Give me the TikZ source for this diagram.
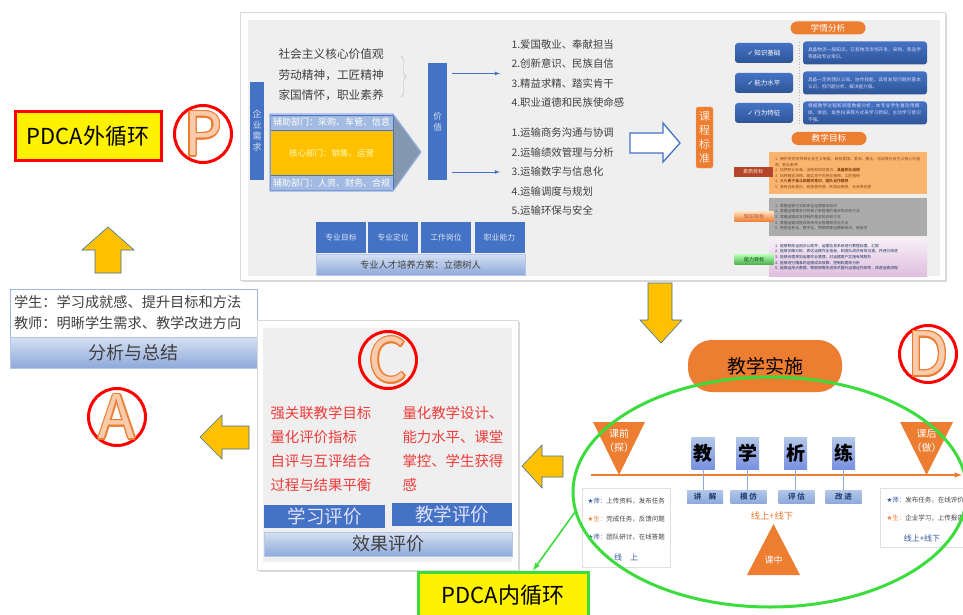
\documentclass[tikz,border=0pt]{standalone}
\usepackage{fontspec}
\setmainfont{Noto Sans CJK SC}
\newfontfamily\symfont{DejaVu Sans}
\usepackage{tikz}
\usetikzlibrary{shapes,shapes.geometric,calc,arrows}
\usetikzlibrary{positioning}
\usetikzlibrary{decorations.pathreplacing}
\usetikzlibrary{shadows}
\XeTeXlinebreaklocale "zh"
\XeTeXlinebreakskip=0pt plus 1pt

\definecolor{officeblue}{HTML}{4472C4}
\definecolor{darkblue}{HTML}{2F5597}
\definecolor{officeorange}{HTML}{ED7D31}
\definecolor{gold}{HTML}{FFC000}
\definecolor{paleblue}{HTML}{B4C7E7}
\definecolor{midblue}{HTML}{8EA9DB}
\definecolor{ringred}{HTML}{FF0000}
\definecolor{loopgreen}{HTML}{3CDC3C}
\definecolor{panelgray}{HTML}{EFEFEF}
\definecolor{lettercore}{HTML}{F8CBAD}
\definecolor{textred}{HTML}{EE3B3B}
\definecolor{arrowedge}{HTML}{41719C}
\definecolor{darktext}{HTML}{404040}
\definecolor{tipgray}{HTML}{8497B0}
\definecolor{goalorange}{HTML}{FAB46E}
\definecolor{goalbrown}{HTML}{8A4A16}
\definecolor{tagred}{HTML}{B5452A}

\newcommand{\pxfont}[2]{\fontsize{#1}{#2}\selectfont}
\newcommand{\tstar}[1]{\textcolor{#1}{{\symfont ★}}}

\tikzstyle{bluebar}=[fill=officeblue,inner sep=0pt,text=paleblue!50!white,align=center]
\tikzstyle{fzband}=[fill=paleblue!85!officeblue,draw=officeblue,line width=.6pt,inner sep=0pt,text=white,minimum width=123,font=\pxfont{9}{10}]
\tikzstyle{coreband}=[fill=gold,draw=officeblue,line width=.6pt,inner sep=0pt,text=yellow!25!white,minimum width=123,font=\pxfont{8.5}{10}]
\tikzstyle{gradband}=[top color=paleblue!55!white,bottom color=midblue,draw=paleblue,inner sep=0pt,text=darktext]
\tikzstyle{pill}=[fill=officeorange,inner sep=0pt,text=white,rounded corners=6.5]
\tikzstyle{checkbtn}=[top color=officeblue,bottom color=darkblue,rounded corners=3,inner sep=0pt,text=white,minimum width=58,minimum height=20,font=\pxfont{6.5}{8}]
\tikzstyle{descbox}=[top color=officeblue,bottom color=darkblue,rounded corners=3,inner xsep=5pt,inner ysep=0pt,text=white!85!blue,minimum height=23,text width=114,align=left,font=\pxfont{4.6}{7}]
\tikzstyle{goalbox}=[inner xsep=6pt,inner ysep=0pt,minimum width=158,text width=146,align=left,font=\pxfont{3.8}{5.6}]
\tikzstyle{goaltag}=[inner sep=0pt,minimum width=39,minimum height=10,font=\pxfont{5}{5}]
\tikzstyle{blockarrow}=[fill=gold,draw=arrowedge,line width=.6pt]
\tikzstyle{ring}=[draw=ringred,line width=3pt,circle,minimum size=57,inner sep=0pt]
\tikzstyle{letterout}=[text=officeorange,inner sep=0pt,font=\pxfont{60}{60}]
\tikzstyle{letterin}=[text=lettercore,inner sep=0pt,font=\pxfont{60}{60}]
\tikzstyle{pdcabox}=[fill=yellow,line width=3pt,inner sep=0pt,font=\pxfont{22}{24}]
\tikzstyle{charbox}=[top color=paleblue,bottom color=midblue!85!blue,inner sep=0pt,minimum width=23,minimum height=32,font=\pxfont{19}{20}\bfseries]
\tikzstyle{stepbox}=[top color=paleblue,bottom color=midblue,inner sep=0pt,minimum width=36,minimum height=13,text=darkblue!80!black,font=\pxfont{7.5}{8}\bfseries]
\tikzstyle{stemline}=[draw=midblue,line width=.8pt]
\tikzstyle{tritext}=[text=white,align=center,inner sep=0pt]
\tikzstyle{infobox}=[draw=gray!25,fill=white,inner sep=0pt]
\tikzstyle{evalbox}=[fill=officeblue,inner sep=0pt,minimum width=121,minimum height=23,text=white!88!blue,font=\pxfont{18.5}{20}]
\tikzset{>=latex}
\tikzstyle{valarrow}=[->,line width=.8pt,draw=officeblue]
\tikzstyle{greenarrow}=[->,line width=1.6pt,draw=loopgreen]

\begin{document}
\begin{tikzpicture}[x=1pt,y=-1pt]
\useasboundingbox (0,0) rectangle (963,615);
\fill[white] (0,0) rectangle (963,615);
\begin{scope}
\clip (0,0) rectangle (963,615);

% ---- plan panel (top)
\draw[draw=gray!30,fill=white,drop shadow={opacity=.3,shadow xshift=2pt,shadow yshift=-2pt}] (240,12) rectangle (945,280);
\fill[panelgray] (248,20) rectangle (940,276);

\node[bluebar,minimum width=14,minimum height=98,font=\pxfont{9}{11}] (qyxq) at (257,131) {企\\业\\需\\求};
\node[anchor=west,align=left,text=darktext,font=\pxfont{11.7}{20.5}] (hxjz) at (275,75) {社会主义核心价值观\\劳动精神，工匠精神\\家国情怀，职业素养};
\draw[gray!55,decorate,decoration={brace,amplitude=5pt}] (401,56) -- (401,97);

\fill[tipgray] (393,114) -- (421,152) -- (393,191) -- cycle;
\node[fzband,minimum height=15] (fzup) at (331.5,122.5) {辅助部门：采购、车管、信息};
\node[coreband,minimum height=45] (hxbm) at (331.5,153) {核心部门：销售、运营};
\node[fzband,minimum height=15] (fzdn) at (331.5,183) {辅助部门：人资、财务、合规};
\draw[officeblue!55,line width=1.2pt] (270,114) -- (393,114) -- (421,152) -- (393,191) -- (270,191) -- cycle;

\node[bluebar,minimum width=19,minimum height=117,font=\pxfont{8.5}{11}] (jz) at (437.5,121.5) {价\\值};
\node[anchor=west,align=left,text=darktext,font=\pxfont{10.4}{19.5}] (mbA) at (508,73.5) {1.爱国敬业、奉献担当\\2.创新意识、民族自信\\3.精益求精、踏实肯干\\4.职业道德和民族使命感};
\node[anchor=west,align=left,text=darktext,font=\pxfont{10.4}{19.5}] (mbB) at (508,172) {1.运输商务沟通与协调\\2.运输绩效管理与分析\\3.运输数字与信息化\\4.运输调度与规划\\5.运输环保与安全};
\draw[valarrow] ($(jz.east |- mbA.west)+(5,0)$) -- ($(mbA.west)+(-8,0)$);
\draw[valarrow] ($(jz.east |- mbB.west)+(5,0)$) -- ($(mbB.west)+(-8,0)$);

\foreach \nm/\cx/\txt in {zymb/341/专业目标,zydw/393/专业定位,gzgw/446/工作岗位,zynl/499.5/职业能力}
  \node[bluebar,minimum width=50,minimum height=31,font=\pxfont{7.8}{9}] (\nm) at (\cx,237.5) {\txt};
\node[gradband,minimum width=209,minimum height=21,font=\pxfont{9.3}{10}] (pyfa) at (420.5,264.5) {专业人才培养方案：立德树人};

\draw[officeblue,line width=1.3pt,fill=white] (630,133) -- (663,133) -- (663,123) -- (680,143) -- (663,162) -- (663,153) -- (630,153) -- cycle;
\node[fill=officeorange,draw=officeorange!60,rounded corners=2,minimum width=17,minimum height=61,inner sep=0pt,align=center,text=orange!15!white,font=\pxfont{11}{14}] (kcbz) at (704.5,137.5) {课\\程\\标\\准};

\node[pill,minimum width=75,minimum height=13,font=\pxfont{8.7}{9}] (xqfx) at (828,28) {学情分析};
\foreach \nm/\cy/\lbl/\desc in {zsjc/53/知识基础/{具备物流一般知识，已有物流市场开发、采购、商品学等基础专业常识。},nlsp/83/能力水平/{具备一定的团队认知、协作技能，具有发现问题的基本认识，但问题分析、解决能力弱。},xwtz/113/行为特征/{根据教学过程和调查数据分析，本专业学生喜欢用模拟、体验、角色扮演等方式来学习新知，主动学习意识不强。}} {
  \node[checkbtn] (\nm) at (764,\cy) {{\symfont ✓} \lbl};
  \node[descbox] (\nm-d) at (865,\cy) {\desc};
}
\draw[dotted,gray!60,line width=.8pt] (799,42) -- (799,125);

\node[pill,minimum width=75,minimum height=13,font=\pxfont{8.7}{9}] (jxmb) at (829,138.5) {教学目标};
\node[goalbox,fill=goalorange,text=goalbrown,minimum height=42] (szmb) at (848,173) {1. 拥护党的领导和社会主义制度，具有爱国、爱岗、敬业、忠诚等社会主义核心价值观，职业素养\\2. 培养职业标准、法制和规范意识，\textbf{具备职业道德}\\3. 培养精益求精、踏实肯干的劳动精神、工匠精神\\4. 具有\textbf{勇于奋斗和敢拼意识、团队合作精神}\\5. 具有创新意识、民族使命感、民族自豪感、社会责任感};
\node[goaltag,fill=tagred,text=orange!20!white] (szmb-t) at (753,172) {素质目标};
\node[goalbox,fill=black!33,text=black!70,minimum height=38] (zsmb) at (848,217) {1. 掌握运输方式和安全运营基本知识\\2. 掌握运输需求分析和订单管理的基本知识和方法\\3. 掌握运输成本控制的基本知识和方法\\4. 掌握运输流程及现场作业管理和优化方法\\5. 熟悉信息化、数字化、物联网等运输新知识、新技术};
\node[goaltag,top color=orange!25!white,bottom color=officeorange,text=tagred] (zsmb-t) at (754,216.5) {知识目标};
\node[goalbox,top color=violet!6!white,bottom color=violet!25!white,text=darkblue!60!black,minimum height=38] (nlmb) at (848,257) {1. 能够熟练运用办公软件、运输信息系统进行数据处理、汇报\\2. 能够正确分析、表达运输作业指标，和团队成员有效沟通，并进行改进\\3. 能够合理规划运输作业管理，对运输客户实施有效服务\\4. 能够进行精准的运输成本核算、控制和提效分析\\5. 能够运用大数据、物联网等先进技术提升运输运作效率，改进运输流程};
\node[goaltag,top color=green!30!white,bottom color=green!55!black!70,text=green!25!black] (nlmb-t) at (754,259.5) {能力目标};

% ---- do: teaching
\draw[blockarrow] (648,283) -- (672,283) -- (672,320) -- (682,320) -- (661,343) -- (640,320) -- (648,320) -- cycle;
\node[pill,rounded corners=24,minimum width=154,minimum height=52,text=black,font=\pxfont{19}{20}] (jxss) at (765,366) {教学实施};

\coordinate (zhou0) at (591,475);
\coordinate (zhou1) at (962,475);
\draw[officeorange,line width=1.5pt,->] (zhou0) -- (zhou1);
\fill[officeorange] (593,422) -- (645,422) -- (619,475) -- cycle;
\node[tritext,font=\pxfont{10}{14}] (kqian) at (619,441) {课前\\（探）};
\fill[officeorange] (900,422) -- (953,422) -- (926.5,475) -- cycle;
\node[tritext,font=\pxfont{10}{14}] (khou) at (926.5,441) {课后\\（做）};

\foreach \nm/\cx/\ch/\lx/\lb in {jiao/703/教/705/讲\quad 解,xue/747.5/学/748.5/模\ 仿,xi/795.5/析/796.5/评\ 估,lian/843.5/练/843.5/改\ 进} {
  \node[charbox] (\nm) at (\cx,453) {\ch};
  \node[stepbox] (\nm-s) at (\lx,496.5) {\lb};
  \draw[stemline] (\nm.south) -- (\nm.south |- \nm-s.north);
}
\node[text=officeorange,font=\pxfont{9.3}{10}] (xsxx) at (772,516) {线上+线下};
\fill[officeorange] (747,575) -- (800,575) -- (773.5,524) -- cycle;
\node[tritext,font=\pxfont{9}{10}] (kzhong) at (773.5,560) {课中};

\node[infobox,minimum width=88,minimum height=79] (kqbox) at (626,527.5) {};
\node[anchor=west,align=left,text=darktext,font=\pxfont{6.5}{18}] (kqtxt) at (584,519) {\tstar{darkblue}\textcolor{darkblue}{师：}上传资料，发布任务\\\tstar{officeorange}\textcolor{officeorange}{生：}完成任务，反馈问题\\\tstar{darkblue}\textcolor{darkblue}{师：}团队研讨，在线答题};
\node[text=darkblue,font=\pxfont{8}{9}] (kqxs) at (626,557) {线\quad 上};

\node[infobox,minimum width=95,minimum height=59] (khbox) at (927.5,517.5) {};
\node[anchor=west,align=left,text=darktext,font=\pxfont{6.5}{18}] (khtxt) at (883,509) {\tstar{darkblue}\textcolor{darkblue}{师：}发布任务，在线评价\\\tstar{officeorange}\textcolor{officeorange}{生：}企业学习，上传报告};
\node[text=darkblue,font=\pxfont{8}{9}] (khxs) at (922,538) {线上+线下};

\node[ellipse,draw=loopgreen,line width=3pt,minimum width=394,minimum height=230,inner sep=0pt] (lunhuan) at (770,492) {};

% ---- act / outer loop (left)
\node[pdcabox,draw=ringred,minimum width=146,minimum height=48] (pdcaw) at (88,136) {PDCA外循环};
\draw[blockarrow] (95,273) -- (95,250) -- (82,250) -- (108,227) -- (134,250) -- (121,250) -- (121,273) -- cycle;
\node[draw=paleblue!80!officeblue,fill=white,minimum width=247,minimum height=48,text width=239,inner xsep=4pt,inner ysep=0pt,align=left,text=darktext,font=\pxfont{14.2}{21}] (xsjs) at (133.5,313) {学生：学习成就感、提升目标和方法\\教师：明晰学生需求、教学改进方向};
\node[gradband,minimum width=247,minimum height=31,font=\pxfont{18}{20}] (fxzj) at (133.5,352.5) {分析与总结};
\draw[blockarrow] (200,437) -- (222,415) -- (222,426) -- (249,426) -- (249,449) -- (222,449) -- (222,459) -- cycle;

% ---- check panel
\draw[draw=gray!30,fill=white,drop shadow={opacity=.3,shadow xshift=2pt,shadow yshift=-2pt}] (257,320) rectangle (518,570);
\fill[panelgray] (263,328) rectangle (512,562);
\node[anchor=west,align=left,text=textred,font=\pxfont{14.4}{24}] (pjzb) at (267,449) {强关联教学目标\\量化评价指标\\自评与互评结合\\过程与结果平衡};
\node[anchor=west,align=left,text=textred,font=\pxfont{14.4}{24}] (jxsj) at (399,449) {量化教学设计、\\能力水平、课堂\\掌控、学生获得\\感};
\node[evalbox] (xxpj) at (324.5,516.5) {学习评价};
\node[evalbox,minimum width=120] (jxpj) at (452,514.5) {教学评价};
\node[gradband,minimum width=248,minimum height=24,font=\pxfont{18}{20}] (xgpj) at (388,544) {效果评价};
\draw[blockarrow] (522,466) -- (542,445) -- (542,456) -- (563,456) -- (563,477) -- (542,477) -- (542,488) -- cycle;

\node[pdcabox,draw=loopgreen,minimum width=170,minimum height=46] (pdcan) at (503,595) {PDCA内循环};
\draw[greenarrow] (lunhuan.186) -- ([xshift=30pt]pdcan.north);

% ---- P D C A rings
\foreach \nm/\lt/\cx/\cy in {ringp/P/203/134,ringa/A/117/417,ringc/C/388/360,ringd/D/928/354} {
  \node[ring] (\nm) at (\cx,\cy) {};
  \foreach \a in {0,30,...,330}
    \node[letterout] at ($(\nm)+(\a:1.3)$) {\lt};
  \node[letterin] (\nm-l) at (\nm) {\lt};
}
\end{scope}
\end{tikzpicture}
\end{document}
